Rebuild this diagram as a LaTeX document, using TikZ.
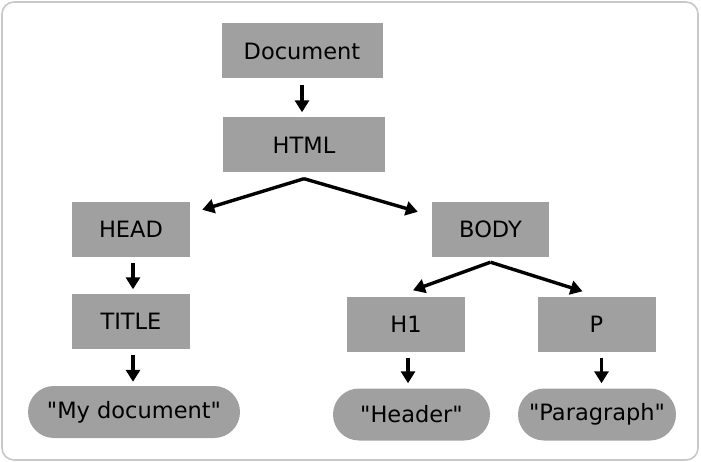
\documentclass[tikz,border=0pt]{standalone}
\usepackage{fontspec}
\setmainfont{DejaVu Sans}[Ligatures=TeXOff]
\usetikzlibrary{arrows.meta}
\definecolor{boxgray}{HTML}{A0A0A0}
\definecolor{framegray}{HTML}{C8C8C8}
\tikzset{
  box/.style={rectangle, fill=boxgray, inner sep=0pt, font=\fontsize{22.5}{26}\selectfont},
  pill/.style={rectangle, rounded corners=26pt, fill=boxgray, inner sep=0pt, font=\fontsize{22.5}{26}\selectfont},
  arr/.style={line width=3.4pt, -{Triangle[length=12pt,width=14pt]}},
}
\begin{document}
\begin{tikzpicture}[x=1pt,y=-1pt]
\useasboundingbox (0,0) rectangle (701,462);
\draw[framegray, line width=1.6pt, rounded corners=12pt, fill=white] (2,2) rectangle (698,460);
\node[box, minimum width=161pt, minimum height=55pt] (doc) at (302,51) {Document};
\node[box, minimum width=162pt, minimum height=55pt] (html) at (304,145) {HTML};
\node[box, minimum width=118pt, minimum height=55pt] (head) at (131,229.5) {HEAD};
\node[box, minimum width=118pt, minimum height=55pt] (title) at (131,321) {TITLE};
\node[pill, minimum width=212pt, minimum height=52pt] (mydoc) at (134,412) {"My document"};
\node[box, minimum width=117pt, minimum height=55pt] (body) at (490.5,229.5) {BODY};
\node[box, minimum width=118pt, minimum height=55pt] (h1) at (406,324) {H1};
\node[box, minimum width=118pt, minimum height=55pt] (p) at (596.5,324) {P};
\node[pill, minimum width=157pt, minimum height=52pt] (header) at (411.5,414.5) {"Header"};
\node[pill, minimum width=158pt, minimum height=52pt] (para) at (597,414.5) {"Paragraph"};
% connectors
\draw[arr] ([yshift=-6pt]doc.south) -- ([yshift=5pt]doc.south |- html.north);
\coordinate (hapex) at ([yshift=-6pt]html.south);
\draw[arr] (hapex) -- ([shift={(12pt,-8pt)}]head.north east);
\draw[arr] (hapex) -- ([shift={(-14pt,-10pt)}]body.north west);
\coordinate (bapex) at ([yshift=-5pt]body.south);
\draw[arr] (bapex) -- ([shift={(7pt,6pt)}]h1.north);
\draw[arr] (bapex) -- ([shift={(-14pt,5pt)}]p.north);
\draw[arr] ([shift={(2pt,-6pt)}]head.south) -- ([shift={(2pt,4pt)}]title.north);
\draw[arr] ([shift={(2pt,-6pt)}]title.south) -- ([shift={(2pt,4pt)}]title.south |- mydoc.north);
\draw[arr] ([shift={(2pt,-6pt)}]h1.south) -- ([shift={(2pt,5pt)}]h1.south |- header.north);
\draw[arr] ([shift={(5pt,-6pt)}]p.south) -- ([shift={(5pt,5pt)}]p.south |- para.north);
\end{tikzpicture}
\end{document}
